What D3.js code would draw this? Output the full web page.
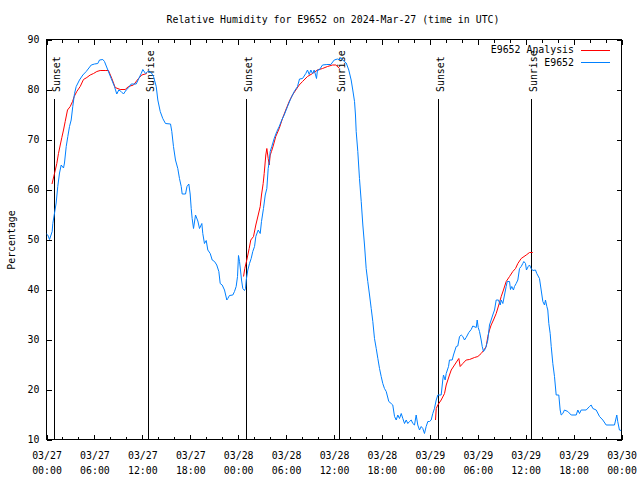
<!DOCTYPE html>
<html><head><meta charset="utf-8">
<script src="https://cdn.jsdelivr.net/npm/d3@7"></script>
<style>
body{margin:0;background:#fff}
svg text{font-family:"DejaVu Sans Mono","Liberation Mono",monospace;font-size:9.9px;fill:#000}
</style>
</head><body>
<svg id="chart" width="640" height="480"></svg>
<script>
// ---------------- data ----------------
const chartTitle = "Relative Humidity for E9652 on 2024-Mar-27 (time in UTC)";
const yAxisTitle = "Percentage";
const seriesNames = ["E9652 Analysis", "E9652"];
const yTickValues = [10, 20, 30, 40, 50, 60, 70, 80, 90];
const startHourUTC = Date.UTC(2024, 2, 27, 0, 0);
const endHourUTC = Date.UTC(2024, 2, 30, 0, 0);
// hours since 03/27 00:00 UTC
const sunEventLabels = ["Sunset", "Sunrise", "Sunset", "Sunrise", "Sunset", "Sunrise"];
const sunEventHours = [0.91, 12.68, 24.96, 36.6, 49.0, 60.64];

// observed E9652 series: [hours, RH %]
const obsSeries = [
[0,51.1],[0.16,50.9],[0.38,50.0],[0.71,51.6],[0.79,53.2],[1.21,57.3],[1.41,60.6],[1.63,63.3],[1.84,64.9],[2.13,64.3],
[2.25,65.3],[2.47,68.6],[2.67,70.6],[2.88,72.6],[3.09,73.9],[3.29,76.6],[3.51,79.2],[3.72,80.6],[4.13,81.9],[4.55,82.9],
[4.97,83.6],[5.60,84.9],[6.01,85.1],[6.42,85.2],[6.64,85.9],[7.05,86.0],[7.26,85.6],[7.68,83.9],[8.10,82.2],[8.51,80.6],
[8.80,79.1],[9.05,79.9],[9.35,79.6],[9.64,79.1],[9.98,79.9],[10.31,80.4],[10.61,81.1],[11.23,81.1],[11.56,82.2],[11.86,83.2],
[12.06,84.0],[12.40,83.2],[12.68,83.6],[13.11,83.4],[13.40,82.6],[13.74,80.6],[13.94,77.9],[14.24,75.6],[14.56,74.2],[14.90,73.2],
[15.53,73.1],[15.69,71.6],[15.90,68.6],[16.15,65.9],[16.44,64.2],[16.65,62.2],[16.87,60.6],[16.99,59.1],[17.41,59.1],[17.59,60.6],
[17.82,61.1],[17.99,59.1],[18.12,56.2],[18.24,54.2],[18.41,52.2],[18.66,54.9],[18.95,53.7],[19.16,52.2],[19.45,53.2],[19.57,51.2],
[19.78,49.2],[20.00,49.8],[20.20,47.9],[20.50,47.2],[20.75,45.9],[21.04,45.6],[21.32,44.9],[21.58,43.6],[21.75,41.2],[22.00,40.9],
[22.29,39.9],[22.58,37.9],[22.70,38.2],[22.91,38.8],[23.33,38.9],[23.54,39.6],[23.75,40.6],[23.92,42.6],[24.04,46.8],[24.17,45.6],
[24.29,43.9],[24.42,41.9],[24.58,40.2],[24.79,39.8],[24.92,40.2],[25.01,41.9],[25.21,43.9],[25.42,45.2],[25.63,46.2],[25.83,47.6],
[26.05,48.6],[26.21,50.6],[26.51,51.9],[26.76,51.2],[26.92,53.6],[27.17,56.2],[27.39,58.9],[27.59,60.2],[27.76,64.2],[27.89,65.6],
[28.01,67.6],[28.21,68.6],[28.51,70.2],[28.84,71.6],[29.14,72.6],[29.46,73.9],[29.76,74.9],[30.18,76.6],[30.59,78.2],[31.02,79.6],
[31.43,80.6],[31.68,82.1],[32.06,82.2],[32.47,83.2],[32.68,83.9],[32.90,83.0],[33.10,83.9],[33.31,83.2],[33.52,83.9],[33.81,82.2],
[33.93,83.9],[34.15,83.9],[34.56,84.9],[35.10,85.0],[35.60,85.0],[36.03,85.9],[36.44,86.1],[36.65,85.9],[36.85,86.4],[37.28,85.6],
[37.53,85.3],[37.85,83.9],[38.15,81.9],[38.35,79.9],[38.57,77.6],[38.69,74.9],[38.78,71.6],[38.98,67.6],[39.19,62.2],[39.41,57.6],
[39.61,52.9],[39.82,48.9],[40.03,44.2],[40.23,41.6],[40.45,38.9],[40.66,36.2],[40.86,33.6],[41.07,30.2],[41.29,28.2],[41.49,26.2],
[41.70,24.2],[41.91,22.6],[42.11,21.2],[42.32,20.2],[42.54,19.6],[42.86,17.6],[43.16,17.2],[43.36,16.9],[43.58,14.6],[43.79,13.9],
[43.99,14.9],[44.20,14.2],[44.42,15.2],[44.62,14.2],[44.83,13.2],[45.04,13.9],[45.24,13.2],[45.45,13.6],[45.67,13.9],[45.87,13.2],
[46.08,12.9],[46.29,14.9],[46.49,12.9],[46.71,11.9],[46.92,12.6],[47.12,12.2],[47.33,11.2],[47.54,12.6],[47.75,13.6],[47.96,13.6],
[48.17,13.9],[48.37,15.2],[48.58,16.2],[48.80,17.9],[49.00,18.9],[49.42,18.9],[49.62,21.9],[49.71,22.9],[49.92,21.9],[50.05,23.2],
[50.34,24.6],[50.46,25.9],[50.80,25.9],[50.96,26.9],[51.30,28.6],[51.50,28.7],[51.72,30.6],[51.93,30.9],[52.13,30.6],[52.34,29.9],
[52.55,30.4],[52.88,31.4],[53.18,32.0],[53.38,32.7],[53.81,32.4],[53.93,33.9],[54.06,32.4],[54.22,31.6],[54.43,29.9],[54.56,28.6],
[54.72,27.6],[54.97,28.2],[55.26,29.9],[55.47,32.9],[55.68,33.9],[55.88,34.9],[56.10,35.9],[56.31,37.9],[56.60,37.9],[56.81,36.9],
[56.94,37.9],[57.14,37.2],[57.35,38.9],[57.56,40.6],[57.69,41.6],[57.98,41.6],[58.10,40.0],[58.26,40.6],[58.47,39.9],[58.60,40.6],
[58.81,41.2],[59.02,41.9],[59.23,44.2],[59.44,44.6],[59.64,45.2],[59.77,45.6],[59.98,45.2],[60.10,43.9],[60.32,44.6],[60.48,44.9],
[60.69,44.2],[60.89,43.8],[61.23,43.9],[61.39,43.2],[61.73,42.2],[61.94,39.9],[62.15,37.6],[62.36,36.9],[62.48,37.9],[62.65,36.6],
[62.77,35.9],[62.90,33.2],[63.07,31.2],[63.20,28.6],[63.40,25.2],[63.61,22.6],[63.82,18.9],[64.15,18.9],[64.32,15.9],[64.45,14.9],
[64.65,15.2],[64.86,15.9],[65.28,15.6],[65.70,14.9],[66.33,14.9],[66.53,15.9],[66.74,15.2],[66.95,15.9],[67.58,15.9],[67.99,16.6],
[68.20,16.9],[68.41,16.2],[68.83,15.9],[69.25,14.6],[69.66,13.9],[70.08,12.9],[71.12,12.9],[71.41,14.9],[71.53,13.6],[71.74,11.9],
[71.95,11.8]
];

// analysis series, one array per night: [hours, RH %]
const analysisNight1 = [
[0.69,61.1],[1.00,63.2],[1.29,65.2],[1.50,67.2],[1.72,68.9],[1.92,70.4],[2.13,71.9],[2.34,73.6],[2.63,75.9],[2.97,76.6],
[3.26,77.6],[3.47,78.6],[3.79,79.6],[4.22,80.6],[4.63,82.0],[5.05,82.4],[5.47,82.9],[5.89,83.2],[6.30,83.6],[6.72,83.8],
[7.35,83.8],[7.76,83.8],[8.18,82.2],[8.60,80.4],[9.23,80.0],[9.85,80.0],[10.27,80.6],[10.89,80.9],[11.52,82.2],[11.93,82.9],
[12.56,83.2]
];
const analysisNight2 = [
[24.67,42.6],[24.83,44.2],[25.08,45.9],[25.38,48.2],[25.58,49.9],[25.92,50.6],[26.21,52.9],[26.51,54.9],[26.76,56.6],[26.92,58.9],
[27.13,61.2],[27.26,63.2],[27.46,66.9],[27.59,68.2],[27.76,66.2],[27.89,64.9],[28.01,66.9],[28.17,67.6],[28.42,68.9],[28.71,70.6],
[29.14,72.2],[29.55,74.2],[29.96,75.9],[30.39,77.6],[30.80,78.9],[31.22,79.9],[31.64,80.9],[32.06,81.6],[32.68,82.6],[33.31,83.2],
[33.93,83.9],[34.56,84.2],[35.19,84.6],[35.81,84.9],[36.23,84.9],[36.69,84.2]
];
const analysisNight3 = [
[48.71,13.9],[48.80,16.2],[49.00,16.9],[49.42,17.9],[49.84,19.2],[50.05,20.9],[50.46,22.9],[50.68,23.9],[51.09,24.9],[51.50,25.9],
[51.63,26.2],[51.80,24.6],[52.13,25.2],[52.55,25.9],[52.97,26.0],[53.59,26.4],[54.01,26.6],[54.43,27.2],[54.72,27.8],[55.06,28.6],
[55.26,30.6],[55.47,31.9],[55.68,32.9],[55.97,33.9],[56.31,35.2],[56.63,36.9],[56.94,38.6],[57.22,39.9],[57.56,41.6],[57.98,42.6],
[58.39,43.6],[58.73,44.2],[59.02,45.2],[59.44,46.2],[60.07,46.9],[60.48,47.4],[60.89,47.4]
];

// ---------------- drawing ----------------
const analysisColor = "#ff0000";
const obsColor = "#0080ff";
const L = 46.5, R = 621.5, T = 39.5, B = 439.5;
const svg = d3.select("#chart");
const toDate = h => new Date(startHourUTC + h * 3600e3);

const x = d3.scaleUtc().domain([new Date(startHourUTC), new Date(endHourUTC)]).range([L, R]);
const y = d3.scaleLinear().domain([10, 90]).range([B, T]);

// title
svg.append("text").attr("x", 333).attr("y", 23).attr("text-anchor", "middle").text(chartTitle);
// y title
svg.append("text").attr("transform", "translate(15,240) rotate(-90)").attr("text-anchor", "middle").text(yAxisTitle);

// axes
const majorTicks = d3.utcHour.every(6).range(new Date(startHourUTC), new Date(endHourUTC + 1));
const minorTicks = d3.utcHour.every(2).range(new Date(startHourUTC), new Date(endHourUTC + 1));

function cleanAxis(g) { g.select(".domain").remove(); g.selectAll("line").attr("stroke", "#000").attr("shape-rendering", "crispEdges"); }

svg.append("g").attr("transform", `translate(0,${B})`)
  .call(d3.axisBottom(x).tickValues(minorTicks).tickSize(-3).tickFormat(""))
  .call(cleanAxis);
svg.append("g").attr("transform", `translate(0,${T})`)
  .call(d3.axisTop(x).tickValues(minorTicks).tickSize(-3).tickFormat(""))
  .call(cleanAxis);
const fmtDay = d3.utcFormat("%m/%d"), fmtTime = d3.utcFormat("%H:%M");
const xb = svg.append("g").attr("transform", `translate(0,${B})`)
  .call(d3.axisBottom(x).tickValues(majorTicks).tickSize(-5).tickPadding(15).tickFormat(fmtDay))
  .call(cleanAxis);
xb.selectAll(".tick text").attr("font-family", null).attr("font-size", null).attr("dy", null).attr("y", 19)
  .each(function (d) {
    const t = d3.select(this);
    t.append("tspan").attr("x", 0).attr("dy", 15).text(fmtTime(d));
  });
svg.append("g").attr("transform", `translate(0,${T})`)
  .call(d3.axisTop(x).tickValues(majorTicks).tickSize(-5).tickFormat(""))
  .call(cleanAxis);

const yl = svg.append("g").attr("transform", `translate(${L},0)`)
  .call(d3.axisLeft(y).tickValues(yTickValues).tickSize(-5).tickPadding(7))
  .call(cleanAxis);
yl.selectAll(".tick text").attr("font-family", null).attr("font-size", null);
svg.append("g").attr("transform", `translate(${R},0)`)
  .call(d3.axisRight(y).tickValues(yTickValues).tickSize(-5).tickFormat(""))
  .call(cleanAxis);

// frame
svg.append("rect").attr("x", L).attr("y", T).attr("width", R - L).attr("height", B - T)
  .attr("fill", "none").attr("stroke", "#000").attr("shape-rendering", "crispEdges");

// sunrise / sunset markers
const ev = svg.append("g");
sunEventHours.forEach((h, i) => {
  const px = Math.round(x(toDate(h))) + 0.5;
  ev.append("line").attr("x1", px).attr("x2", px).attr("y1", 99).attr("y2", B)
    .attr("stroke", "#000").attr("shape-rendering", "crispEdges");
  ev.append("text").attr("transform", `translate(${px + 5.5},92) rotate(-90)`).text(sunEventLabels[i]);
});

// lines
const line = d3.line().x(d => x(toDate(d[0]))).y(d => y(d[1]));
[analysisNight1, analysisNight2, analysisNight3].forEach(seg => {
  svg.append("path").datum(seg).attr("d", line).attr("fill", "none").attr("stroke", analysisColor).attr("stroke-width", 1);
});
svg.append("path").datum(obsSeries).attr("d", line).attr("fill", "none").attr("stroke", obsColor).attr("stroke-width", 1);

// legend
const legendColors = [analysisColor, obsColor];
seriesNames.forEach((n, i) => {
  const yy = 49.5 + i * 12.5;
  svg.append("text").attr("x", 574).attr("y", yy + 3.5).attr("text-anchor", "end").text(n);
  svg.append("line").attr("x1", 581).attr("x2", 610).attr("y1", Math.round(yy) + 0.5).attr("y2", Math.round(yy) + 0.5)
    .attr("stroke", legendColors[i]).attr("shape-rendering", "crispEdges");
});
</script>
</body></html>
